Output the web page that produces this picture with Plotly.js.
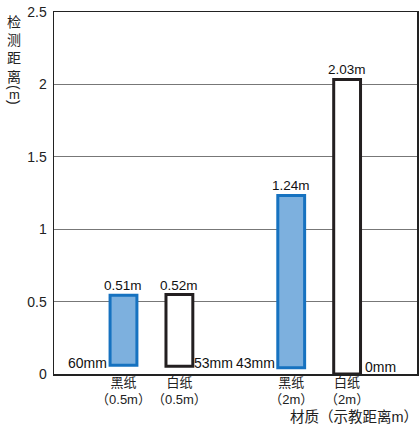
<!DOCTYPE html>
<html>
<head>
<meta charset="utf-8">
<script src="https://cdn.plot.ly/plotly-3.0.1.min.js"></script>
<style>html,body{margin:0;padding:0;background:#fff;}#chart{width:419px;height:427px;}</style>
</head>
<body>
<div id="chart"></div>
<script>
// ---- data ----
const categories = ['黑纸<br>（0.5m）', '白纸<br>（0.5m）', '黑纸<br>（2m）', '白纸<br>（2m）'];
const positions = [1, 2, 4, 5];
const minDistance = [0.06, 0.053, 0.043, 0];          // m (nearest detectable)
const maxDrawn = [0.544, 0.549, 1.233, 2.034];        // bar tops as drawn
const maxLabels = ['0.51m', '0.52m', '1.24m', '2.03m'];
const minLabels = ['60mm', '53mm', '43mm', '0mm'];
const paperKind = ['black', 'white', 'black', 'white'];
const yTicks = [0, 0.5, 1, 1.5, 2, 2.5];
const yTitleText = '检<br>测<br>距<br>离';
const xTitle = '材质（示教距离m）';

// ---- layout constants ----
const W = 419, H = 427, M = {l: 54, r: 2, t: 12, b: 53};
const PW = W - M.l - M.r, PH = H - M.t - M.b;
const px2x = p => (p - M.l) / PW;
const px2y = p => (H - M.b - p) / PH;
const FONT = 'Liberation Sans, Noto Sans CJK SC, sans-serif';
const BAR_W = 0.48;

const blueIdx = paperKind.map((k, i) => k === 'black' ? i : -1).filter(i => i >= 0);
const whiteIdx = paperKind.map((k, i) => k === 'white' ? i : -1).filter(i => i >= 0);

function barTrace(idx, fill, line) {
  return {
    type: 'bar',
    x: idx.map(i => positions[i]),
    y: idx.map(i => maxDrawn[i] - minDistance[i]),
    base: idx.map(i => minDistance[i]),
    width: BAR_W,
    marker: {color: fill, line: {color: line, width: 3}},
    hoverinfo: 'skip',
    showlegend: false
  };
}

const traces = [
  barTrace(blueIdx, '#7db0de', '#1672c0'),
  barTrace(whiteIdx, '#ffffff', '#231f20')
];

const annotations = [];
// value labels on top
positions.forEach((p, i) => {
  annotations.push({
    x: p, y: maxDrawn[i], xref: 'x', yref: 'y',
    text: maxLabels[i], showarrow: false, yanchor: 'bottom', xanchor: 'center',
    yshift: 0, font: {family: FONT, size: 13.5, color: '#111'}
  });
});
// min distance labels at the foot of bars
const sideLeft = [true, false, true, false];
const sideY = [0.078, 0.078, 0.078, 0.05];
positions.forEach((p, i) => {
  const left = sideLeft[i];
  annotations.push({
    x: left ? p - BAR_W / 2 - 0.03 : p + BAR_W / 2 + (i === 3 ? 0.07 : 0.0),
    y: sideY[i], xref: 'x', yref: 'y',
    text: minLabels[i], showarrow: false,
    xanchor: left ? 'right' : 'left', yanchor: 'middle',
    borderpad: 0, font: {family: FONT, size: 14, color: '#111'}
  });
});
// vertical (stacked) y-axis title
annotations.push({
  x: px2x(14), y: px2y(10), xref: 'paper', yref: 'paper',
  text: yTitleText, showarrow: false, xanchor: 'center', yanchor: 'top',
  borderpad: 0, align: 'center',
  font: {family: 'Noto Sans CJK SC', size: 14, color: '#222'}
});
annotations.push({x: px2x(14), y: px2y(87), xref: 'paper', yref: 'paper', text: '(', textangle: 90,
  showarrow: false, xanchor: 'center', yanchor: 'middle', borderpad: 0, font: {family: FONT, size: 14, color: '#222'}});
annotations.push({x: px2x(14), y: px2y(94.5), xref: 'paper', yref: 'paper', text: 'm',
  showarrow: false, xanchor: 'center', yanchor: 'middle', borderpad: 0, font: {family: FONT, size: 13, color: '#222'}});
annotations.push({x: px2x(14), y: px2y(102), xref: 'paper', yref: 'paper', text: ')', textangle: 90,
  showarrow: false, xanchor: 'center', yanchor: 'middle', borderpad: 0, font: {family: FONT, size: 14, color: '#222'}});
// x-axis title
annotations.push({
  x: px2x(419), y: px2y(417), xref: 'paper', yref: 'paper', text: xTitle,
  showarrow: false, xanchor: 'right', yanchor: 'middle', borderpad: 0,
  font: {family: FONT, size: 14.5, color: '#222'}
});

const layout = {
  width: W, height: H,
  margin: M,
  paper_bgcolor: '#fff', plot_bgcolor: '#fff',
  font: {family: FONT, size: 13, color: '#222'},
  bargap: 0,
  xaxis: {
    range: [-0.243, 6.25], tickvals: positions, ticktext: categories,
    tickangle: 0, automargin: false, ticklabelstandoff: -4,
    showgrid: false, zeroline: false, showline: true, mirror: true,
    linecolor: '#222', linewidth: 1.5, ticks: '', fixedrange: true,
    tickfont: {family: FONT, size: 13, color: '#222'}
  },
  yaxis: {
    range: [0, 2.5], tickvals: yTicks, ticktext: yTicks.map(String),
    showgrid: true, gridcolor: '#777', gridwidth: 1, zeroline: false,
    showline: true, mirror: true, linecolor: '#222', linewidth: 1.5,
    ticks: '', ticklabelstandoff: 3, fixedrange: true, automargin: false,
    tickfont: {family: FONT, size: 14, color: '#222'}
  },
  annotations: annotations
};

Plotly.newPlot('chart', traces, layout, {displayModeBar: false, staticPlot: true});
</script>
</body>
</html>
